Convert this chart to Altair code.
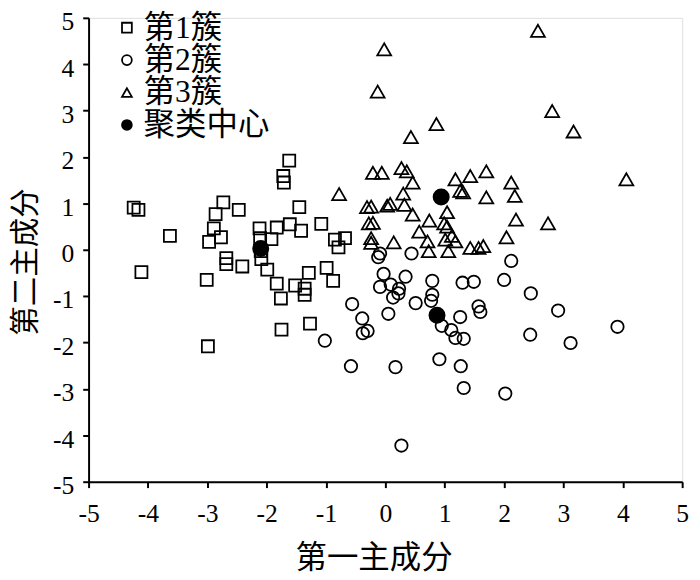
import altair as alt
import pandas as pd

# 第1簇 (squares)
c1_x = [-1.62, -1.72, -1.71, -4.24, -4.16, -2.73, -2.86, -2.47, -1.45, -3.63,
        -2.89, -2.77, -2.97, -2.12, -1.83, -1.61, -1.42, -1.08, -2.11, -1.92,
        -0.85, -0.68, -0.79, -2.09, -1.99, -2.68, -2.68, -2.41, -4.11, -3.01,
        -1.83, -1.76, -1.52, -1.36, -1.36, -1.29, -0.99, -0.88, -1.75, -1.27,
        -2.99, -2.10]
c1_y = [1.92, 1.59, 1.45, 0.91, 0.86, 1.02, 0.77, 0.86, 0.92, 0.30,
        0.46, 0.27, 0.17, 0.46, 0.48, 0.55, 0.41, 0.56, 0.25, 0.23,
        0.22, 0.25, 0.05, -0.20, -0.43, -0.18, -0.31, -0.36, -0.48, -0.65,
        -0.73, -1.05, -0.77, -0.84, -0.97, -0.50, -0.39, -0.67, -1.72, -1.59,
        -2.08, -0.03]

# 第2簇 (circles)
c2_x = [-0.09, -0.12, 0.44, 2.12, -0.03, 0.34, -0.09, 0.09, 0.23, 0.22,
        0.13, 0.79, 0.79, 0.77, 1.30, 1.49, 2.00, 2.45, 2.91, 0.51,
        -0.56, -0.39, -0.38, -0.30, 0.05, -1.02, 1.57, 1.60, 1.26, 0.95,
        1.11, 1.18, 1.32, 2.44, 3.12, -0.58, 0.17, 0.91, 1.27, 1.32,
        2.02, 0.27, 3.91]
c2_y = [-0.08, -0.16, -0.08, -0.24, -0.52, -0.58, -0.80, -0.75, -0.84, -0.94,
        -1.03, -0.67, -0.97, -1.10, -0.71, -0.69, -0.65, -0.94, -1.31, -1.15,
        -1.17, -1.48, -1.80, -1.75, -1.38, -1.96, -1.22, -1.34, -1.45, -1.64,
        -1.73, -1.90, -1.92, -1.83, -2.01, -2.51, -2.53, -2.36, -2.51, -2.98,
        -3.10, -4.22, -1.66]

# 第3簇 (triangles)
c3_x = [-0.78, -0.21, -0.06, 0.27, 0.36, 0.46, 0.30, -0.31, -0.24, 0.03,
        0.08, 0.32, 0.46, -0.28, -0.21, -0.24, -0.24, 0.14, 0.57, 0.74,
        0.71, 0.73, 1.04, 0.99, 1.04, 1.01, 1.18, 1.06, 1.12, 1.18,
        1.26, 1.31, 1.43, 1.70, 1.70, 1.43, 1.57, 1.65, 2.12, 2.18,
        2.20, 2.74, 2.04, 4.06, 2.57, -0.02, -0.13, 2.81, 3.17, 0.86,
        0.43]
c3_y = [1.20, 1.66, 1.66, 1.76, 1.69, 1.45, 1.21, 0.92, 0.93, 0.95,
        0.99, 0.97, 0.76, 0.57, 0.58, 0.25, 0.15, 0.16, 0.39, 0.63,
        0.18, -0.03, 0.81, 0.57, 0.50, 0.22, 0.18, -0.03, 0.30, 1.52,
        1.27, 1.24, 1.59, 1.69, 1.13, 0.04, 0.04, 0.08, 1.45, 1.16,
        0.65, 0.57, 0.27, 1.52, 4.72, 4.32, 3.41, 2.99, 2.55, 2.71,
        2.43]

# 聚类中心
cen_x = [-2.10, 0.94, 0.87]
cen_y = [0.03, 1.14, -1.41]

groups = ["第1簇", "第2簇", "第3簇", "聚类中心"]
shapes = ["square", "circle", "triangle-up", "circle"]
fills = ["transparent", "transparent", "transparent", "black"]
strokes = ["black", "black", "black", "black"]
marker_area = {"第1簇": 150, "第2簇": 160, "第3簇": 200, "聚类中心": 240}

rows = []
for g, xs, ys in zip(groups, [c1_x, c2_x, c3_x, cen_x], [c1_y, c2_y, c3_y, cen_y]):
    for a, b in zip(xs, ys):
        rows.append({"x": a, "y": b, "group": g, "sz": marker_area[g]})
df = pd.DataFrame(rows)

LATIN = "Liberation Serif, Noto Sans CJK SC"
CJK = "Noto Sans CJK SC"
ticks = list(range(-5, 6))


def make_legend():
    return alt.Legend(
        title=None, orient="none", legendX=23, legendY=-6, padding=0,
        labelFont=LATIN, labelFontSize=32, labelColor="black", labelLimit=300,
        labelOffset=1, rowPadding=1, symbolSize=100,
        symbolStrokeColor="black", symbolStrokeWidth=1.8, symbolOpacity=1,
    )


chart = alt.Chart(df).mark_point(opacity=1, strokeWidth=1.8).encode(
    x=alt.X("x:Q", scale=alt.Scale(domain=[-5, 5], nice=False, zero=False),
            axis=alt.Axis(values=ticks, title="第一主成分", labelExpr="datum.value",
                          grid=False, ticks=True, tickSize=6, tickWidth=2, tickColor="black",
                          domainColor="black", domainWidth=2,
                          labelFont=LATIN, labelFontSize=26, labelColor="black",
                          labelPadding=13, labelFlush=False, labelOverlap=False,
                          titleFont=CJK, titleFontSize=32, titleFontWeight="normal",
                          titleColor="black", titleX=290, titleY=87,
                          titleBaseline="alphabetic", titleAlign="center")),
    y=alt.Y("y:Q", scale=alt.Scale(domain=[-5, 5], nice=False, zero=False),
            axis=alt.Axis(values=ticks, title="第二主成分", labelExpr="datum.value",
                          grid=False, ticks=True, tickSize=6, tickWidth=2, tickColor="black",
                          domainColor="black", domainWidth=2,
                          labelFont=LATIN, labelFontSize=26, labelColor="black",
                          labelPadding=9, labelOffset=4, labelFlush=False, labelOverlap=False,
                          titleFont=CJK, titleFontSize=30, titleFontWeight="normal",
                          titleColor="black", titleX=-64, titleY=248, titleAngle=270,
                          titleBaseline="middle", titleAlign="center")),
    shape=alt.Shape("group:N", scale=alt.Scale(domain=groups, range=shapes), legend=make_legend()),
    fill=alt.Fill("group:N", scale=alt.Scale(domain=groups, range=fills), legend=make_legend()),
    stroke=alt.Stroke("group:N", scale=alt.Scale(domain=groups, range=strokes), legend=make_legend()),
    size=alt.Size("sz:Q", scale=None),
).properties(
    width=604, height=472,
    autosize=alt.AutoSizeParams(type="none"),
    padding={"left": 82, "top": 5, "right": 10, "bottom": 95},
).configure_view(stroke=None).configure(background="white")

chart.save("out.html", embed_options={"renderer": "svg", "actions": False})
